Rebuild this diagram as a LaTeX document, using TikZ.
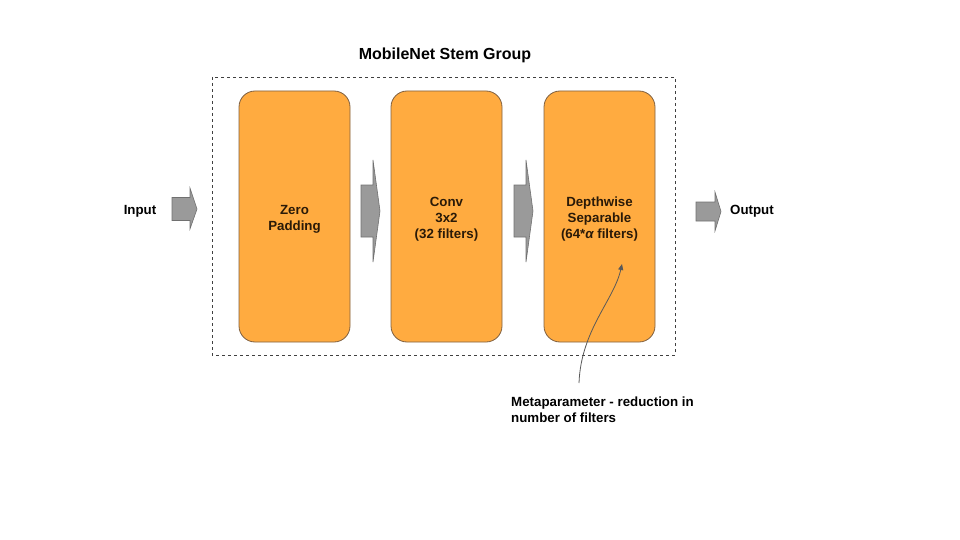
\documentclass[tikz,border=0pt]{standalone}
\usepackage{fontspec}
\setmainfont{Liberation Sans}
\usetikzlibrary{arrows.meta}
\definecolor{boxfill}{HTML}{FFAB40}
\definecolor{boxline}{HTML}{7F6040}
\definecolor{boxtext}{HTML}{2A1A08}
\definecolor{arrfill}{HTML}{9A9A9A}
\definecolor{arrline}{HTML}{707070}
\definecolor{noteline}{HTML}{595959}
\tikzset{
  stage/.style={draw=boxline, fill=boxfill, rounded corners=16pt, minimum width=111pt, minimum height=251pt, inner sep=0pt, line width=0.8pt},
  stagetext/.style={text=boxtext, font=\bfseries\fontsize{13.3}{16}\selectfont, align=center},
  lbl/.style={font=\bfseries\fontsize{13.3}{16}\selectfont, inner sep=0pt},
  blockarrow/.style={draw=arrline, fill=arrfill, line width=0.6pt, line join=miter},
  group/.style={draw=black!75, dashed, line width=0.6pt}
}
\begin{document}
\begin{tikzpicture}[x=1pt,y=-1pt]
\useasboundingbox (0,0) rectangle (960,540);
% group frame
\draw[group] (212,77) rectangle (675,355);
\node[font=\bfseries\fontsize{16}{19}\selectfont, inner sep=0pt] (title) at (445,55) {MobileNet Stem Group};
% stages
\node[stage] (zp) at (294.5,216.5) {};
\node[stage] (conv) at (446.5,216.5) {};
\node[stage] (dw) at (599.5,216.5) {};
\node[stagetext] (zpt) at (294.5,219) {Zero\\Padding};
\node[stagetext] (convt) at (446.5,219) {Conv\\3x2\\(32 filters)};
\node[stagetext] (dwt) at (599.5,219) {Depthwise\\Separable\\(64*{\bfseries\itshape α} filters)};
% labels
\node[lbl] (in) at (140,211) {Input};
\node[lbl, anchor=west] (out) at (730,211) {Output};
% block arrows
\draw[blockarrow] (172,197.5) -- (190,197.5) -- (190,188) -- (197,209) -- (190,229) -- (190,220.5) -- (172,220.5) -- cycle;
\draw[blockarrow] (361,185) -- (373,185) -- (373,160) -- (380,211) -- (373,262) -- (373,237) -- (361,237) -- cycle;
\draw[blockarrow] (514,185) -- (526,185) -- (526,160) -- (533,211) -- (526,262) -- (526,237) -- (514,237) -- cycle;
\draw[blockarrow] (696,202) -- (715,202) -- (715,192) -- (721,211.5) -- (715,231) -- (715,221) -- (696,221) -- cycle;
% note
\node[font=\bfseries\fontsize{13.3}{16}\selectfont, align=left, anchor=north west, inner sep=0pt] (note) at (511,396.5) {Metaparameter - reduction in\\number of filters};
\coordinate (ns) at (579,383);
\coordinate (nt) at (622,264);
\draw[noteline, line width=0.8pt, -{Triangle[length=6pt,width=5pt]}] (ns) .. controls (581,330) and (614,300) .. (nt);
\end{tikzpicture}
\end{document}
